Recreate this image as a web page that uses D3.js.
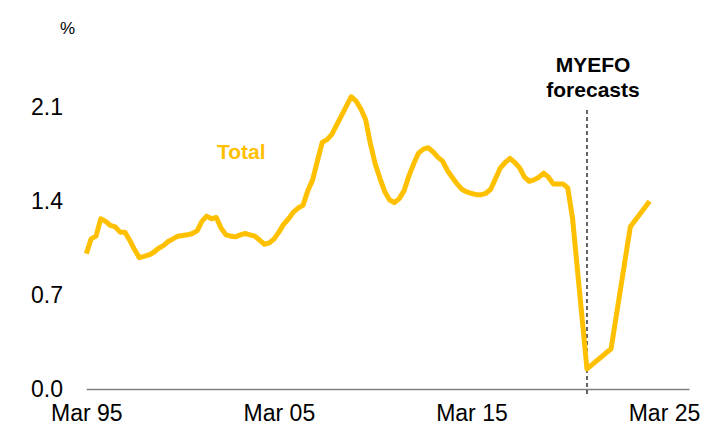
<!DOCTYPE html>
<html>
<head>
<meta charset="utf-8">
<script src="https://cdn.jsdelivr.net/npm/d3@7"></script>
<style>
  html, body { margin: 0; padding: 0; background: #fff; }
  svg { display: block; font-family: "Liberation Sans", Arial, sans-serif; }
</style>
</head>
<body>
<svg id="chart" width="728" height="426"></svg>
<script>
// ---- Data ----
// Quarterly actuals, Mar 1995 .. Sep 2020 (annual % growth)
const histStart = "1995-03";
const histValues = [
  1.01, 1.12, 1.14, 1.27, 1.25, 1.22, 1.21, 1.17, 1.17, 1.11,
  1.04, 0.98, 0.99, 1.00, 1.02, 1.05, 1.07, 1.10, 1.12, 1.14,
  1.145, 1.15, 1.16, 1.18, 1.25, 1.29, 1.27, 1.28, 1.20, 1.15,
  1.14, 1.135, 1.15, 1.16, 1.15, 1.14, 1.11, 1.08, 1.09, 1.12,
  1.17, 1.23, 1.27, 1.32, 1.35, 1.37, 1.48, 1.56, 1.70, 1.84,
  1.86, 1.90, 1.97, 2.04, 2.11, 2.18, 2.15, 2.09, 2.01, 1.83,
  1.68, 1.57, 1.47, 1.41, 1.39, 1.42, 1.48, 1.59, 1.68, 1.76,
  1.79, 1.80, 1.77, 1.73, 1.70, 1.63, 1.58, 1.53, 1.49, 1.47,
  1.46, 1.45, 1.45, 1.46, 1.49, 1.57, 1.65, 1.69, 1.72, 1.69,
  1.65, 1.58, 1.55, 1.56, 1.58, 1.61, 1.58, 1.53, 1.53, 1.53,
  1.50, 1.27, 0.89
];
// MYEFO forecasts
const fcDates = ["2021-03", "2022-06", "2023-06", "2024-06"];
const fcValues = [0.15, 0.30, 1.21, 1.40];
const forecastStart = "2021-03";

const xTickLabels = ["1995-03", "2005-03", "2015-03", "2025-03"];
const yTicks = [0, 0.7, 1.4, 2.1];
const seriesName = "Total";
const forecastLabel = ["MYEFO", "forecasts"];
const unitLabel = "%";

// ---- Build ----
const parse = d3.timeParse("%Y-%m");
const start = parse(histStart);
const series = histValues.map((v, i) => ({ date: d3.timeMonth.offset(start, 3 * i), value: v }))
  .concat(fcDates.map((d, i) => ({ date: parse(d), value: fcValues[i] })));

const svg = d3.select("#chart");
const x = d3.scaleTime()
  .domain([parse("1995-03"), new Date(2026, 5, 18)])
  .range([86.3, 689]);
const y = d3.scaleLinear().domain([0, 2.1]).range([389, 107.5]);

const gold = "#FFC000";

// x axis
const xAxis = svg.append("g")
  .attr("transform", `translate(0,${y(0)})`)
  .call(d3.axisBottom(x)
    .tickValues(xTickLabels.map(parse))
    .tickFormat(d3.timeFormat("%b %y"))
    .tickSize(0)
    .tickPadding(16));
xAxis.select(".domain").attr("stroke", "#808080").attr("stroke-width", 1.5);
xAxis.selectAll("text").attr("font-size", 23).attr("fill", "#000")
  .attr("font-family", "Liberation Sans, Arial, sans-serif");

// y axis
const yAxis = svg.append("g")
  .attr("transform", `translate(86,0)`)
  .call(d3.axisLeft(y)
    .tickValues(yTicks)
    .tickFormat(d3.format(".1f"))
    .tickSize(0)
    .tickPadding(23));
yAxis.select(".domain").remove();
yAxis.selectAll("text").attr("font-size", 23).attr("fill", "#000")
  .attr("font-family", "Liberation Sans, Arial, sans-serif");

// unit label
svg.append("text").attr("x", 60).attr("y", 34)
  .attr("font-size", 17).attr("fill", "#000").text(unitLabel);

// forecast divider
const xf = x(parse(forecastStart));
svg.append("line")
  .attr("x1", xf).attr("x2", xf)
  .attr("y1", 110).attr("y2", y(0) + 5)
  .attr("stroke", "#000").attr("stroke-width", 1.2)
  .attr("stroke-dasharray", "4,3");

svg.append("text")
  .attr("x", 593).attr("y", 72)
  .attr("text-anchor", "middle").attr("font-size", 21).attr("font-weight", "bold")
  .attr("fill", "#000")
  .selectAll("tspan").data(forecastLabel).join("tspan")
  .attr("x", 593).attr("dy", (d, i) => i === 0 ? 0 : 25)
  .text(d => d);

// line
const line = d3.line().x(d => x(d.date)).y(d => y(d.value)).curve(d3.curveLinear);
svg.append("path")
  .datum(series)
  .attr("d", line)
  .attr("fill", "none")
  .attr("stroke", gold)
  .attr("stroke-width", 5)
  .attr("stroke-linejoin", "round");

// series label
svg.append("text")
  .attr("x", 217).attr("y", 159)
  .attr("font-size", 21).attr("font-weight", "bold")
  .attr("fill", gold).text(seriesName);
</script>
</body>
</html>
